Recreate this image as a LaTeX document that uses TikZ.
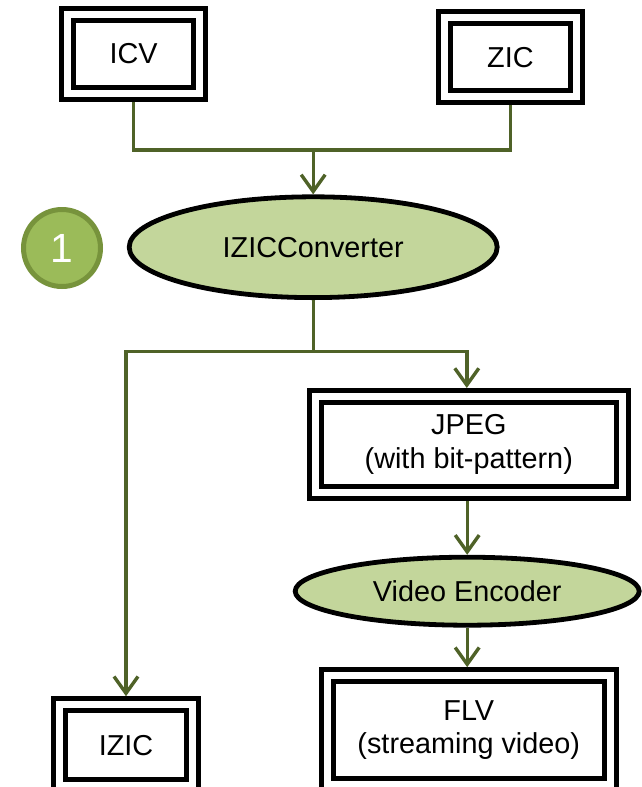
\documentclass[tikz,border=0pt]{standalone}
\usepackage{fontspec}
\setmainfont{Liberation Sans}
\usetikzlibrary{calc,shapes.geometric,positioning,arrows.meta}
\definecolor{linkgreen}{HTML}{4F6228}
\definecolor{procfill}{HTML}{C3D69B}
\definecolor{badgefill}{HTML}{9BBB59}
\definecolor{badgeline}{HTML}{77933C}

\begin{document}
\begin{tikzpicture}[every node/.style={font=\fontsize{20.5}{24}\selectfont,align=center},
  dbox/.style={draw=black,line width=0.125cm,double=white,double distance=0.175cm,
    inner sep=0pt,outer sep=0.21cm,rectangle},
  proc/.style={ellipse,draw=black,line width=0.12cm,fill=procfill,inner sep=0pt,outer sep=0.06cm},
  link/.style={draw=linkgreen,line width=0.085cm},
  arr/.style={link,-{Straight Barb[length=0.42cm,width=0.6cm]}}]
     \useasboundingbox (0,0) rectangle (16.05,-19.675);
     \node[dbox,minimum width=3.3cm,minimum height=1.975cm](icv) at (3.34,-1.35){ICV};
     \node at ($(icv)+(9.42,-0.08)$)[dbox,minimum width=3.3cm,minimum height=1.975cm](zic){ZIC};
     \node at ($(icv)+(4.49,-4.83)$)[proc,minimum width=9.2cm,minimum height=2.52cm](conv){IZICConverter};
     \node at ($(conv)+(-6.28,-0.02)$)[circle,draw=badgeline,line width=0.125cm,fill=badgefill,
       text=white,minimum size=1.925cm,inner sep=0pt,font=\fontsize{29}{30}\selectfont](one){1};
     \node at ($(conv)+(3.89,-4.93)$)[dbox,minimum width=7.68cm,minimum height=2.4cm](jpeg){JPEG\\(with bit-pattern)};
     \node at ($(jpeg)+(-0.04,-3.67)$)[proc,minimum width=8.6cm,minimum height=1.7cm](enc){Video Encoder};
     \node at ($(jpeg)+(0,-7.14)$)[dbox,minimum width=7.08cm,minimum height=2.72cm](flv){FLV\\(streaming video)};
     \node at ($(conv)+(-4.68,-12.45)$)[dbox,minimum width=3.33cm,minimum height=2.03cm](izic){IZIC};
     \coordinate (join) at ($(conv)+(0,2.43)$);
     \coordinate (split) at ($(conv)+(0,-2.6)$);
     \draw[link](icv.south) |- (join) -| (zic.south);
     \draw[arr](join) -- (conv);
     \draw[link](conv) -- (split);
     \draw[arr](split) -| (izic.north);
     \draw[arr](split) -| ($(jpeg.north)+(-0.05,0)$);
     \draw[arr](jpeg.south-|enc.north) -- (enc);
     \draw[arr](enc.south) -- (enc.south|-flv.north);
\end{tikzpicture}
\end{document}
